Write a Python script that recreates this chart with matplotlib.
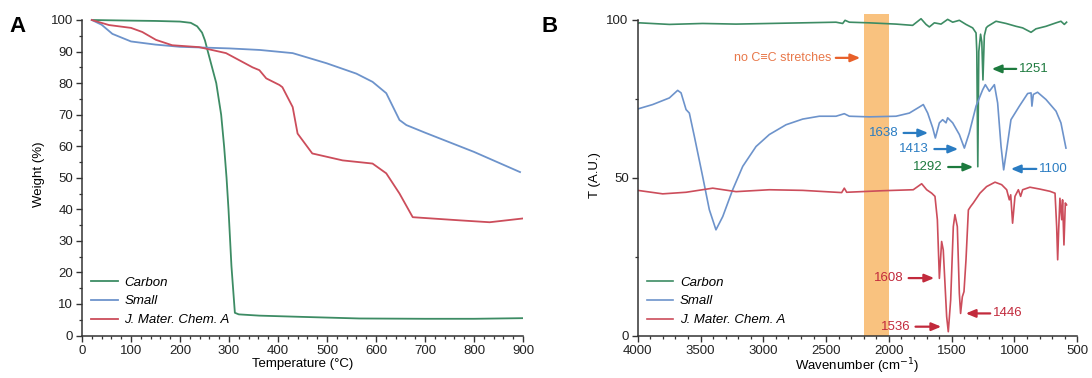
import matplotlib
matplotlib.use("Agg")
import matplotlib.pyplot as plt
from matplotlib.ticker import MultipleLocator

plt.rcParams['font.family'] = ['Liberation Sans', 'DejaVu Sans']
plt.rcParams['font.size'] = 9.5

# ---- panel A: TGA ----
carbon_t = [20, 100, 150, 200, 222, 235, 245, 251, 256, 262, 268, 274, 284, 290, 295, 299, 305, 312, 320, 362, 450, 566, 700, 800, 900]
carbon_w = [100, 99.8, 99.7, 99.5, 99.1, 98.0, 96.0, 93.5, 90.5, 87, 83.5, 80, 70, 60, 50, 40, 22, 7.2, 6.7, 6.3, 5.9, 5.4, 5.3, 5.3, 5.5]
small_t = [20, 40, 62, 100, 150, 200, 300, 363, 430, 499, 560, 593, 621, 648, 662, 700, 800, 894]
small_w = [100, 98.5, 95.6, 93.2, 92.2, 91.5, 91.0, 90.5, 89.5, 86.3, 83, 80.4, 76.8, 68.3, 66.7, 64.3, 58.2, 51.8]
jmca_t = [20, 55, 100, 123, 151, 184, 239, 294, 348, 362, 376, 403, 409, 430, 440, 470, 532, 593, 621, 648, 675, 771, 832, 900]
jmca_w = [100, 98.4, 97.5, 96.2, 93.7, 92.0, 91.4, 89.5, 85.0, 84.1, 81.5, 79.4, 78.7, 72.4, 64.0, 57.7, 55.5, 54.5, 51.4, 45.0, 37.5, 36.5, 35.9, 37.1]

# ---- panel B: FTIR ----
carbon_k = [4000, 3987, 3748, 3483, 3217, 2952, 2686, 2421, 2368, 2349, 2315, 2156, 1943, 1811, 1744, 1704, 1678,
            1638, 1585, 1532, 1492, 1439, 1386, 1333, 1306, 1300, 1292, 1284, 1270, 1260, 1251, 1240, 1225, 1213,
            1147, 1067, 988, 935, 868, 829, 749, 669, 630, 603, 585]
carbon_ft = [98.9, 99.1, 98.6, 98.9, 98.7, 98.9, 99.1, 99.3, 98.9, 99.9, 99.3, 99.1, 98.7, 98.3, 100.4, 98.6, 97.8,
             99.1, 98.7, 100.2, 99.3, 99.9, 98.6, 97.5, 95.9, 90, 53.5, 90, 95.5, 93, 81, 95, 97.5, 98.0,
             99.6, 98.9, 98.0, 97.5, 96.1, 97.2, 98.0, 99.1, 99.6, 98.6, 99.3]
small_k = [4000, 3881, 3748, 3682, 3655, 3615, 3589, 3549, 3483, 3430, 3377, 3323, 3244, 3164, 3058, 2952, 2819,
           2686, 2554, 2421, 2355, 2315, 2156, 1943, 1837, 1758, 1726, 1691, 1651, 1630, 1598, 1572, 1545, 1532,
           1492, 1439, 1399, 1360, 1306, 1253, 1232, 1200, 1160, 1134, 1107, 1086, 1062, 1028, 961, 895, 868, 861,
           850, 816, 749, 669, 630, 590]
small_ft = [71.8, 73.2, 75.3, 77.7, 76.9, 71.6, 70.5, 63.1, 50.4, 39.9, 33.5, 37.7, 46.2, 53.6, 59.9, 63.7, 66.8,
            68.6, 69.5, 69.5, 70.3, 69.5, 69.3, 69.5, 70.5, 72.4, 73.2, 70.5, 65.8, 62.6, 67.4, 68.4, 67.4, 69.0,
            67.4, 63.7, 59.4, 64.2, 72.7, 77.9, 79.5, 77.4, 79.5, 73.7, 60.0, 52.5, 58.9, 68.4, 72.7, 76.7, 76.9, 72.7,
            76.4, 77.1, 74.8, 71.1, 67.4, 59.4]
jmca_k = [4000, 3801, 3615, 3403, 3217, 2952, 2686, 2376, 2355, 2336, 2044, 1806, 1739, 1699, 1659, 1633, 1614,
          1598, 1580, 1567, 1540, 1527, 1508, 1487, 1474, 1455, 1439, 1429, 1415, 1402, 1386, 1367, 1349, 1328,
          1275, 1222, 1155, 1102, 1062, 1041, 1030, 1015, 996, 969, 951, 935, 877, 797, 717, 677, 664, 656, 648,
          638, 624, 617, 606, 595, 585]
jmca_ft = [46.0, 44.9, 45.4, 46.7, 45.6, 46.2, 46.0, 45.3, 46.7, 45.4, 45.9, 46.2, 48.1, 46.2, 45.1, 44.1, 36.7,
           18.1, 29.8, 27.1, 6.0, 1.2, 11.3, 34.5, 38.3, 34.5, 13.4, 7.0, 12.3, 13.9, 24.0, 39.8, 40.9, 42.0,
           45.1, 47.2, 48.6, 47.8, 46.2, 43.0, 44.6, 35.6, 44.1, 46.2, 44.1, 46.2, 47.0, 46.4, 45.7, 45.1, 34.5, 24.0, 33.5,
           43.5, 36.7, 43.0, 28.7, 42.0, 41.4]

labels = ['Carbon', 'Small', 'J. Mater. Chem. A']
colors = ['#3d8c64', '#6d93cb', '#cc4d5b']

# annotations: (text, x of text, y, arrow tail, arrow head, ha, colour)
notes = [
    ('1251', 964, 84.5, 964, 1203, 'left', '#1d7a3e'),
    ('1638', 1925, 64.2, 1905, 1665, 'right', '#2a7cc2'),
    ('1413', 1680, 59.1, 1660, 1426, 'right', '#2a7cc2'),
    ('1292', 1570, 53.4, 1550, 1306, 'right', '#1d7a3e'),
    ('1100', 804, 52.8, 804, 1051, 'left', '#2a7cc2'),
    ('1608', 1885, 18.2, 1865, 1617, 'right', '#c22a3c'),
    ('1536', 1830, 2.8, 1810, 1561, 'right', '#c22a3c'),
    ('1446', 1171, 7.0, 1171, 1410, 'left', '#c22a3c'),
]

fig = plt.figure(figsize=(10.92, 3.78), dpi=100)
axA = fig.add_axes([0.0751, 0.1124, 0.4038, 0.8514])
axB = fig.add_axes([0.584, 0.1124, 0.4025, 0.8514])

for ax in (axA, axB):
    ax.spines['top'].set_visible(False)
    ax.spines['right'].set_visible(False)
    for s in ('left', 'bottom'):
        ax.spines[s].set_linewidth(1.1)
        ax.spines[s].set_color('#333333')
    ax.spines['left'].set_bounds(0, 100)
    ax.tick_params(which='major', direction='out', length=4, width=1, color='#333333', labelcolor='#222222', pad=2.5)
    ax.tick_params(which='minor', direction='out', length=2.2, width=0.9, color='#333333')
    ax.set_ylim(0, 102)

axA.plot(carbon_t, carbon_w, color=colors[0], lw=1.3, label=labels[0])
axA.plot(small_t, small_w, color=colors[1], lw=1.3, label=labels[1])
axA.plot(jmca_t, jmca_w, color=colors[2], lw=1.3, label=labels[2])
axA.set_xlim(0, 900)
axA.xaxis.set_major_locator(MultipleLocator(100))
axA.xaxis.set_minor_locator(MultipleLocator(20))
axA.yaxis.set_major_locator(MultipleLocator(10))
axA.yaxis.set_minor_locator(MultipleLocator(5))
axA.set_xlabel('Temperature (°C)', labelpad=1)
axA.set_ylabel('Weight (%)')
axA.legend(loc='lower left', frameon=False, handlelength=2.0, handletextpad=0.5,
           labelspacing=0.5, borderaxespad=0.3, prop={'style': 'italic', 'size': 9.5})

axB.axvspan(2200, 2000, color='#f9c27f', lw=0, zorder=0)
axB.plot(carbon_k, carbon_ft, color=colors[0], lw=1.2, label=labels[0])
axB.plot(small_k, small_ft, color=colors[1], lw=1.2, label=labels[1])
axB.plot(jmca_k, jmca_ft, color=colors[2], lw=1.2, label=labels[2])
axB.set_xlim(4000, 500)
axB.xaxis.set_major_locator(MultipleLocator(500))
axB.xaxis.set_minor_locator(MultipleLocator(100))
axB.yaxis.set_major_locator(MultipleLocator(50))
axB.yaxis.set_minor_locator(MultipleLocator(25))
axB.set_xlabel('Wavenumber (cm$^{-1}$)', labelpad=0)
axB.set_ylabel('T (A.U.)')
axB.legend(loc='lower left', frameon=False, handlelength=2.0, handletextpad=0.5,
           labelspacing=0.5, borderaxespad=0.3, prop={'style': 'italic', 'size': 9.5})

axB.text(2460, 88, 'no C≡C stretches', color='#e8784a', ha='right', va='center', fontsize=9)
axB.annotate('', xy=(2206, 88), xytext=(2445, 88),
             arrowprops=dict(arrowstyle='-|>,head_length=0.6,head_width=0.25', color='#e8602a', lw=1.6))
for txt, tx, ty, x0, x1, ha, c in notes:
    axB.text(tx, ty, txt, color=c, ha=ha, va='center', fontsize=9.5)
    axB.annotate('', xy=(x1, ty), xytext=(x0, ty),
                 arrowprops=dict(arrowstyle='-|>,head_length=0.6,head_width=0.25', color=c, lw=1.6))

fig.text(0.009, 0.915, 'A', fontsize=16, fontweight='bold')
fig.text(0.496, 0.915, 'B', fontsize=16, fontweight='bold')

fig.savefig('out.png', dpi=100)
